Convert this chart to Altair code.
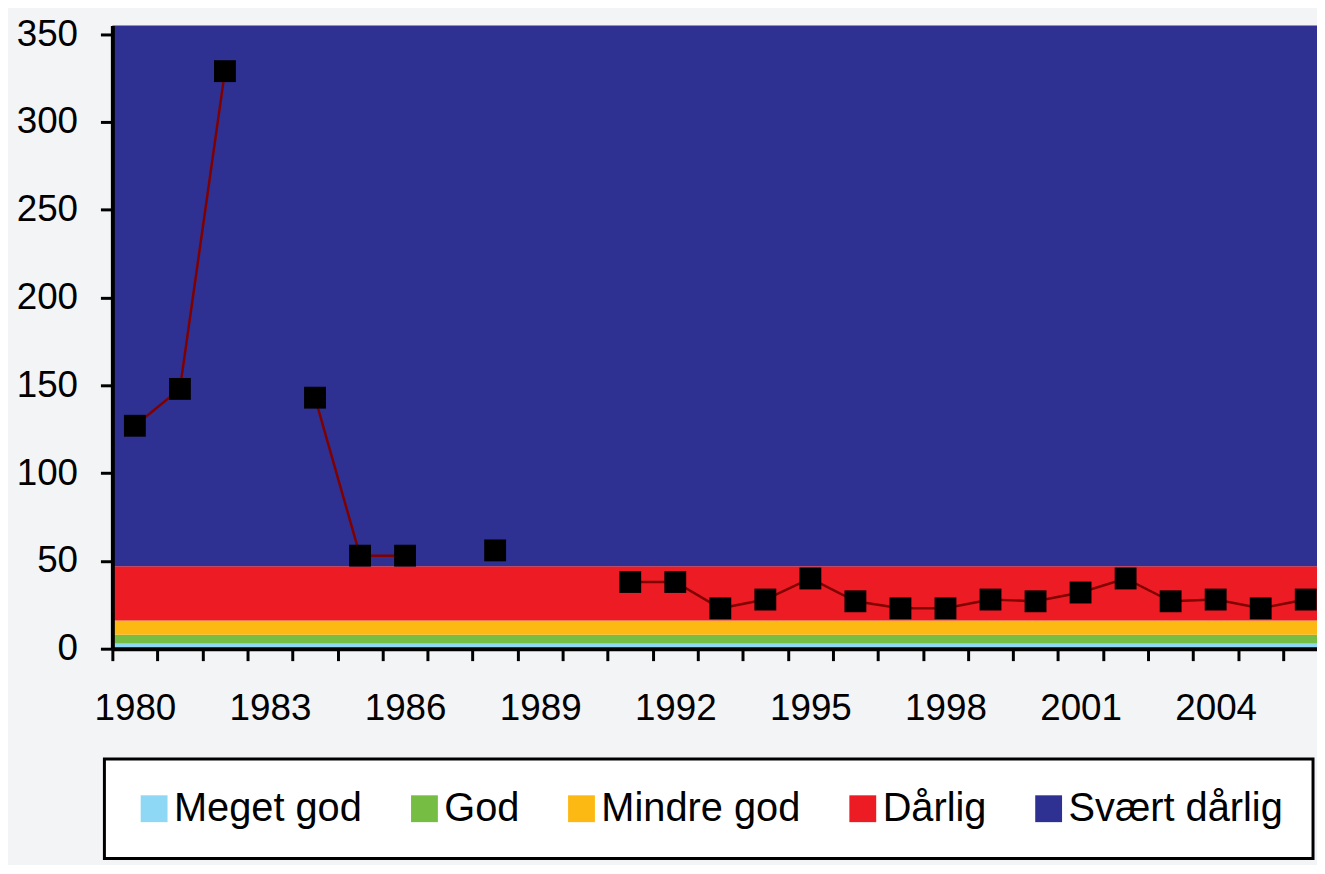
import altair as alt
import pandas as pd

# ---- data ----
years = list(range(1980, 2007))
values = [127, 148, 329, None, 143, 53, 53, None, 56, None, None, 38, 38, 23, 28,
          40, 27, 23, 23, 28, 27, 32, 40, 27, 28, 23, 28]

band_names = ["Meget god", "God", "Mindre god", "Dårlig", "Svært dårlig"]
band_low = [0, 3, 8, 16, 47]
band_high = [3, 8, 16, 47, 355]
band_colors = ["#8FD8F5", "#76BE43", "#FDB913", "#ED1C24", "#2E3192"]

y_ticks = [0, 50, 100, 150, 200, 250, 300, 350]
x_tick_years = list(range(1980, 2007))

FONT = "Liberation Sans, Arial, sans-serif"

# ---- tables ----
series = pd.DataFrame({"year": years, "value": values})
series["segment"] = series["value"].isna().cumsum()
bands = pd.DataFrame({"klasse": band_names, "lo": band_low, "hi": band_high})

W, H = 1212, 627
x_domain = [1979.5, 2006.25]
step_px = W / (x_domain[1] - x_domain[0])

x_scale = alt.Scale(domain=x_domain, nice=False, zero=False)
y_scale = alt.Scale(domain=[0, 355], nice=False)

x_axis = alt.Axis(
    values=[y - 0.5 for y in x_tick_years],
    labelExpr="((datum.value + 0.5 - 1980) % 3 == 0) ? format(datum.value + 0.5, 'd') : ''",
    labelOffset=step_px / 2,
    labelFlush=False,
    labelOverlap=False,
    labelFont=FONT, labelFontSize=37, labelColor="black", labelPadding=30,
    tickSize=12, tickWidth=3, tickColor="black",
    domainColor="black", domainWidth=4,
    grid=False, title=None, zindex=1,
)
y_axis = alt.Axis(
    values=y_ticks,
    labelFont=FONT, labelFontSize=37, labelColor="black", labelPadding=23,
    tickSize=12, tickWidth=3, tickColor="black",
    domainColor="black", domainWidth=4,
    grid=False, title=None, zindex=1,
)

band_layer = alt.Chart(bands).mark_rect(opacity=1).encode(
    y=alt.Y("lo:Q", scale=y_scale, axis=y_axis),
    y2="hi:Q",
    color=alt.Color(
        "klasse:N",
        scale=alt.Scale(domain=band_names, range=band_colors),
        sort=band_names,
        legend=alt.Legend(
            title=None,
            orient="none",
            legendX=-8,
            legendY=738,
            direction="horizontal",
            symbolType="square",
            symbolSize=729,
            symbolStrokeWidth=0,
            symbolOpacity=1,
            labelFont=FONT,
            labelFontSize=40,
            labelColor="black",
            labelLimit=600,
            labelOffset=0,
            columnPadding=42,
            padding=30,
            strokeColor="black",
            fillColor="white",
            cornerRadius=0,
        ),
    ),
)

line_layer = alt.Chart(series).mark_line(color="#800000", strokeWidth=2.5).encode(
    x=alt.X("year:Q", scale=x_scale, axis=x_axis),
    y=alt.Y("value:Q", scale=y_scale),
    detail="segment:N",
)

point_layer = alt.Chart(series).transform_filter("datum.value != null").mark_square(
    size=484, color="black", opacity=1, strokeWidth=0
).encode(
    x=alt.X("year:Q", scale=x_scale),
    y=alt.Y("value:Q", scale=y_scale),
)

chart = alt.layer(band_layer, line_layer, point_layer).properties(
    width=W,
    height=H,
    autosize=alt.AutoSizeParams(type="none"),
    padding={"left": 105, "top": 15, "right": 0, "bottom": 215},
    background="#F3F4F6",
).configure_view(stroke=None).configure_legend(strokeWidth=3)

chart.save("out.html", embed_options={"renderer": "svg", "actions": False})
